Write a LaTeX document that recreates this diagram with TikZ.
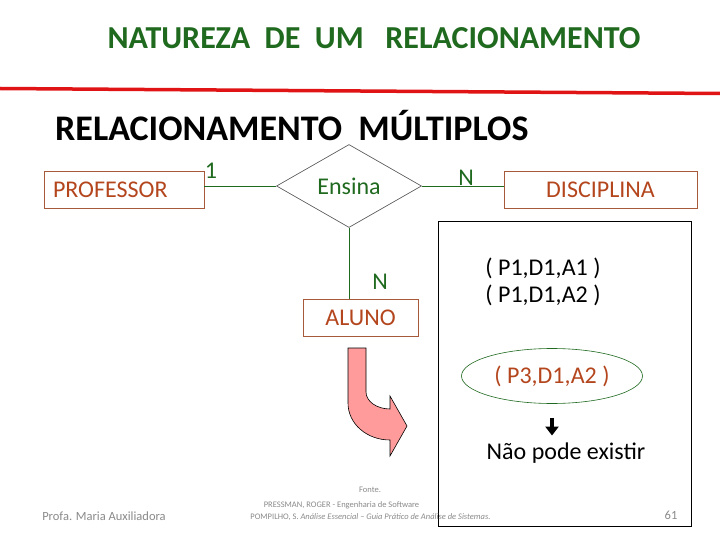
\documentclass[tikz,border=0pt]{standalone}
\usepackage{fontspec}
\setmainfont{Carlito}
\usepackage{tikz}
\usetikzlibrary{arrows.meta,positioning,shapes.geometric}
\definecolor{relgreen}{HTML}{1F6A1F}
\definecolor{entline}{HTML}{A65A3A}
\definecolor{enttext}{HTML}{B4461E}
\definecolor{slidered}{HTML}{E01414}
\definecolor{footgray}{HTML}{8A8A8A}
\definecolor{arrowpink}{HTML}{FF9B9B}
\newcommand{\diagfont}{\fontsize{24}{28}\selectfont}
\tikzset{
  entity/.style={draw=entline, line width=0.8pt, text=enttext, minimum height=37pt,
                 inner sep=0pt, font=\diagfont},
  relation/.style={diamond, draw=black!70, line width=0.6pt, text=relgreen,
                   minimum width=145pt, minimum height=83pt, inner sep=0pt, font=\diagfont},
  link/.style={draw=relgreen, line width=0.8pt},
  card/.style={text=relgreen, inner sep=0pt, font=\diagfont},
  tuple/.style={inner sep=0pt, font=\diagfont},
  source/.style={text=footgray, inner sep=0pt, font=\fontsize{8.5}{10}\selectfont},
  footer/.style={text=footgray, inner sep=0pt, font=\fontsize{12.5}{14}\selectfont}
}

\begin{document}
\begin{tikzpicture}[x=1pt,y=-1pt,>=Latex]
        \useasboundingbox[fill=white] (0,0) rectangle (720,540);

        \node[text=relgreen,font=\fontsize{32}{36}\selectfont\bfseries] (title) at (374,38)
          {NATUREZA\ \ DE\ \ UM\ \ \ RELACIONAMENTO};
        \draw[slidered,line width=3.5pt] (0,88.5) -- (720,93.5);
        \node[anchor=west,inner sep=0pt,font=\fontsize{36}{40}\selectfont\bfseries] (subtitle) at (55,126)
          {RELACIONAMENTO\ \ MÚLTIPLOS};

        \node[entity,minimum width=160pt,text width=142pt,align=left,inner xsep=9pt] (prof) at (124,189.5) {PROFESSOR};
        \node[relation] (ensina) at (349,186) {Ensina};
        \node[entity,minimum width=193pt] (disc) at (600.5,190) {DISCIPLINA};
        \node[entity,minimum width=115pt] (aluno) at (360.5,317.5) {ALUNO};

        \draw[link] (ensina.west) -- (ensina.west -| prof.east);
        \draw[link] (ensina.east) -- (ensina.east -| disc.west);
        \draw[link] (ensina.south) -- (ensina.south |- aluno.north);
        \node[card] (c1) at (211,171) {1};
        \node[card] (cn1) at (466,178) {N};
        \node[card] (cn2) at (380,282) {N};

        \draw[fill=arrowpink,draw=black,line width=0.6pt]
          (348,348) -- (366,348) -- (366,392)
          .. controls (366,401.5) and (377,409) .. (390,409)
          -- (390,396) -- (407,426) -- (390,456) -- (390,440)
          .. controls (367,440) and (348,424) .. (348,403) -- cycle;

        \node[draw=black,line width=1pt,minimum width=253pt,minimum height=304pt] (frame) at (564.5,374) {};
        \node[tuple] (tup1) at (543,268) {( P1,D1,A1 )};
        \node[tuple] (tup2) at (543,295) {( P1,D1,A2 )};
        \node[tuple,ellipse,draw=relgreen,line width=0.6pt,text=enttext,
              minimum width=181pt,minimum height=55pt] (tup3) at (552,376) {( P3,D1,A2 )};
        \node[tuple] (verdict) at (566,453) {Não pode existir};
        \draw[-{Triangle[width=13pt,length=9pt]},line width=4.5pt,shorten <=14pt,shorten >=7pt]
          (tup3.south) -- (tup3.south |- verdict.north);

        \node[footer] (autora) at (104,516) {Profa. Maria Auxiliadora};
        \node[footer] (page) at (671,515) {61};
        \node[source] (fonte) at (370,490) {Fonte.};
        \node[source] (ref1) at (341.5,505) {PRESSMAN, ROGER - Engenharia de Software};
        \node[source] (ref2) at (370.5,517) {POMPILHO, S. \textit{Análise Essencial – Guia Prático de Análise de Sistemas.}};
      \end{tikzpicture}
\end{document}
